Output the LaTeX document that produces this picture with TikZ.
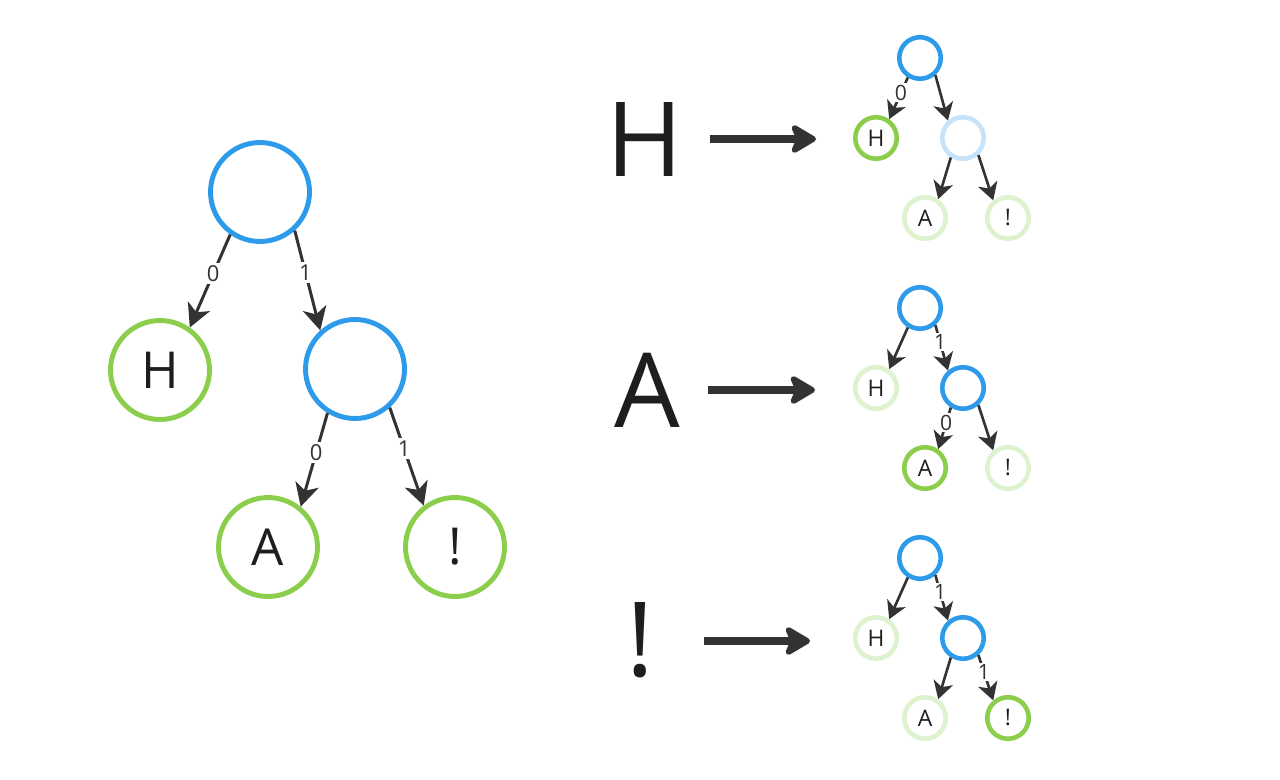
\documentclass[tikz,border=0pt]{standalone}
\usepackage{fontspec}
\setmainfont{Open Sans}
\usetikzlibrary{arrows.meta}
\definecolor{Ink}{HTML}{1E1E1E}
\definecolor{Edge}{HTML}{333333}
\definecolor{Blue}{HTML}{2E9BEA}
\definecolor{Green}{HTML}{8ACE4B}
\definecolor{PaleBlue}{HTML}{C6E3FA}
\definecolor{PaleGreen}{HTML}{DEF2D0}
\tikzset{
  bignode/.style={
    circle, draw, line width=2.8pt, minimum size=1.98cm,
    inner sep=0pt, text=Ink, font=\fontsize{29}{29}\selectfont
  },
  smallnode/.style={
    circle, draw, line width=2.6pt, minimum size=0.83cm,
    inner sep=0pt, text=Ink, font=\fontsize{13}{13}\selectfont
  },
  branch/.style={draw=Blue},
  leaf/.style={draw=Green},
  fadedbranch/.style={draw=PaleBlue},
  fadedleaf/.style={draw=PaleGreen},
  bigedge/.style={-{Stealth[length=4.6mm,width=4.8mm,inset=1.3mm]}, line width=1.7pt, draw=Edge},
  smalledge/.style={-{Stealth[length=3.5mm,width=4mm,inset=1mm]}, line width=1.5pt, draw=Edge},
  biglabel/.style={pos=0.42, fill=white, inner sep=1.5pt, text=Edge, font=\fontsize{12.5}{12.5}\selectfont},
  smalllabel/.style={pos=0.37, fill=white, inner sep=1pt, text=Edge, font=\fontsize{12}{12}\selectfont},
  symbol/.style={text=Ink, inner sep=0pt, font=\fontsize{59}{59}\selectfont},
  encode/.style={-{Stealth[length=6mm,width=7mm,inset=1.5mm,round]}, line width=4pt, draw=Edge}
}
\begin{document}
\begin{tikzpicture}[x=0.02cm,y=-0.02cm]
    \fill[white] (0,0) rectangle (1280,780);
    % big tree
    \node[bignode,branch] (root) at (260,192) {};
    \node[bignode,leaf] (leafH) at (160,370) {H};
    \node[bignode,branch] (mid) at (355,369) {};
    \node[bignode,leaf] (leafA) at (268,547) {A};
    \node[bignode,leaf] (leafX) at (455,547) {!};
    \draw[bigedge] (root.235) -- (leafH.55) node[biglabel] {0};
    \draw[bigedge] (root.312) -- (mid.132) node[biglabel] {1};
    \draw[bigedge] (mid.238) -- (leafA.51) node[biglabel] {0};
    \draw[bigedge] (mid.312) -- (leafX.127) node[biglabel] {1};
    % H
    \node[symbol] (symH) at (645,140) {H};
    \coordinate (hfrom) at (710,139);
    \coordinate (hto) at (816,139);
    \draw[encode] (hfrom) -- (hto);
    \node[smallnode,branch] (hroot) at (920,58) {};
    \node[smallnode,leaf] (hH) at (876,138) {H};
    \node[smallnode,fadedbranch] (hmid) at (963,138) {};
    \node[smallnode,fadedleaf] (hA) at (925,218) {A};
    \node[smallnode,fadedleaf] (hX) at (1008,218) {!};
    \draw[smalledge] (hroot.238) -- (hH.55) node[smalllabel] {0};
    \draw[smalledge] (hroot.312) -- (hmid.131);
    \draw[smalledge] (hmid.238) -- (hA.55);
    \draw[smalledge] (hmid.312) -- (hX.130);
    % A
    \node[symbol] (symA) at (647,390) {A};
    \coordinate (afrom) at (708,390);
    \coordinate (ato) at (815,390);
    \draw[encode] (afrom) -- (ato);
    \node[smallnode,branch] (aroot) at (920,308) {};
    \node[smallnode,fadedleaf] (aH) at (876,388) {H};
    \node[smallnode,branch] (amid) at (963,388) {};
    \node[smallnode,leaf] (aA) at (925,468) {A};
    \node[smallnode,fadedleaf] (aX) at (1008,468) {!};
    \draw[smalledge] (aroot.238) -- (aH.55);
    \draw[smalledge] (aroot.312) -- (amid.131) node[smalllabel] {1};
    \draw[smalledge] (amid.238) -- (aA.55) node[smalllabel] {0};
    \draw[smalledge] (amid.312) -- (aX.130);
    % !
    \node[symbol] (symX) at (640,640) {!};
    \coordinate (xfrom) at (704,641);
    \coordinate (xto) at (810,641);
    \draw[encode] (xfrom) -- (xto);
    \node[smallnode,branch] (xroot) at (920,558) {};
    \node[smallnode,fadedleaf] (xH) at (876,638) {H};
    \node[smallnode,branch] (xmid) at (963,638) {};
    \node[smallnode,fadedleaf] (xA) at (925,718) {A};
    \node[smallnode,leaf] (xX) at (1008,718) {!};
    \draw[smalledge] (xroot.238) -- (xH.55);
    \draw[smalledge] (xroot.312) -- (xmid.131) node[smalllabel] {1};
    \draw[smalledge] (xmid.238) -- (xA.55);
    \draw[smalledge] (xmid.312) -- (xX.130) node[smalllabel] {1};
\end{tikzpicture}
\end{document}
